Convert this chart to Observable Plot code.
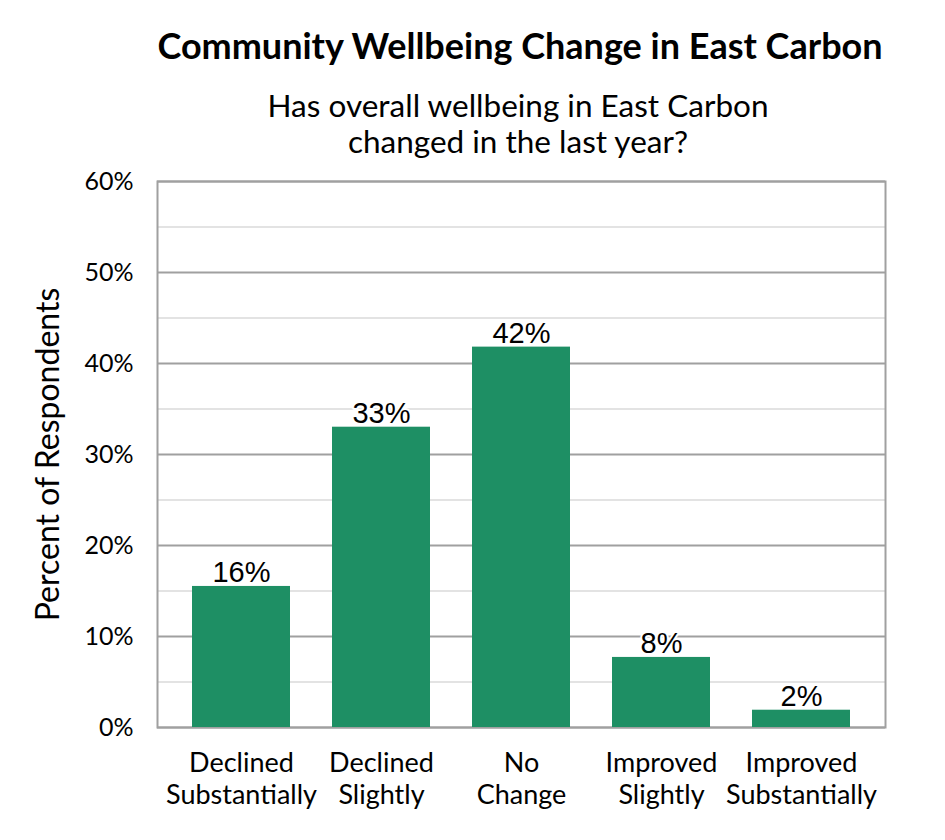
<!DOCTYPE html>
<html>
<head>
<meta charset="utf-8">
<script src="https://cdn.jsdelivr.net/npm/d3@7"></script>
<script src="https://cdn.jsdelivr.net/npm/@observablehq/plot@0.6"></script>
<style>
  html, body { margin: 0; padding: 0; background: #fff; }
  body { width: 945px; height: 840px; overflow: hidden; font-family: Lato, "Open Sans", sans-serif; }
  #title { position: absolute; left: 0; width: 1040px; top: 25px; text-align: center; font-weight: 700; font-size: 36px; line-height: 40px; color: #000; white-space: nowrap; }
  #subtitle { position: absolute; left: 0; width: 1036px; top: 87px; text-align: center; font-size: 31.5px; line-height: 36px; color: #000; white-space: nowrap; }
  #chart { position: absolute; left: 0; top: 165px; }
</style>
</head>
<body>
<div id="title">Community Wellbeing Change in East Carbon</div>
<div id="subtitle">Has overall wellbeing in East Carbon<br>changed in the last year?</div>
<div id="chart"></div>
<script>
const categories = ["Declined\nSubstantially", "Declined\nSlightly", "No\nChange", "Improved\nSlightly", "Improved\nSubstantially"];
const values = [15.5, 33.0, 41.8, 7.7, 1.9];
const majorTicks = [0, 10, 20, 30, 40, 50, 60];
const minorTicks = [5, 15, 25, 35, 45, 55];

const data = categories.map((c, i) => ({category: c, value: values[i], label: Math.round(values[i]) + "%"}));

const chart = Plot.plot({
  width: 945,
  height: 675,
  marginLeft: 157,
  marginRight: 60,
  marginTop: 16,
  marginBottom: 113,
  style: {background: "#fff", color: "#000", overflow: "visible"},
  x: {domain: categories, paddingInner: 0.3, paddingOuter: 0.15, insetLeft: 13, insetRight: 13, label: null},
  y: {domain: [0, 60], label: null},
  marks: [
    Plot.ruleY(minorTicks, {stroke: "#c8c8c8", strokeWidth: 1.2}),
    Plot.ruleY(majorTicks, {stroke: "#a0a0a0", strokeWidth: 2}),
    Plot.frame({stroke: "#a0a0a0", strokeWidth: 2}),
    Plot.barY(data, {x: "category", y: "value", fill: "#1e8f64"}),
    Plot.text(data, {x: "category", y: "value", text: "label", dy: -4, lineAnchor: "bottom", fontSize: 29,
      fontFamily: "Liberation Sans, Arial, sans-serif", fill: "#000", stroke: "#fff", strokeWidth: 4, paintOrder: "stroke"}),
    Plot.axisY(majorTicks, {tickSize: 0, tickPadding: 24, tickFormat: d => d + "%", fontSize: 25, fontFamily: "Lato, sans-serif", label: null}),
    Plot.axisX({tickSize: 0, tickPadding: 22, fontSize: 27, fontFamily: "Lato, sans-serif", lineHeight: 1.185, label: null, textAnchor: "middle", lineAnchor: "top"}),
    Plot.text(["Percent of Respondents"], {frameAnchor: "left", textAnchor: "middle", dx: -109, rotate: -90, fontSize: 32, fontFamily: "Lato, sans-serif", fill: "#000"})
  ]
});
document.getElementById("chart").appendChild(chart);
</script>
</body>
</html>
